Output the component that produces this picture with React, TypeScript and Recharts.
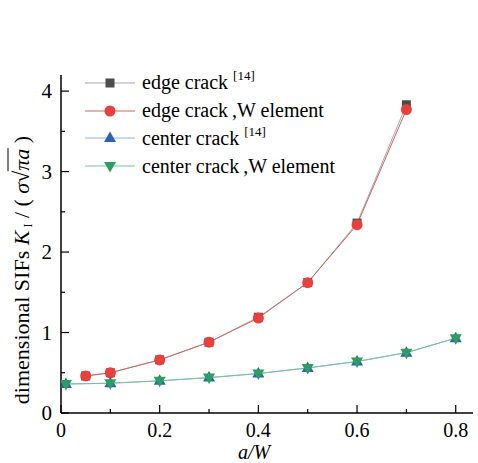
import React from "react";
import { LineChart, Line, XAxis, YAxis } from "recharts";

const edgeRefX = [0.05, 0.1, 0.2, 0.3, 0.4, 0.5, 0.6, 0.7];
const edgeRefY = [0.46, 0.5, 0.66, 0.88, 1.19, 1.62, 2.36, 3.83];
const edgeWX = [0.05, 0.1, 0.2, 0.3, 0.4, 0.5, 0.6, 0.7];
const edgeWY = [0.46, 0.5, 0.66, 0.88, 1.18, 1.62, 2.34, 3.77];
const centerRefX = [0.01, 0.1, 0.2, 0.3, 0.4, 0.5, 0.6, 0.7, 0.8];
const centerRefY = [0.36, 0.37, 0.4, 0.44, 0.49, 0.56, 0.64, 0.75, 0.93];
const centerWX = [0.01, 0.1, 0.2, 0.3, 0.4, 0.5, 0.6, 0.7, 0.8];
const centerWY = [0.36, 0.37, 0.4, 0.44, 0.49, 0.56, 0.64, 0.75, 0.93];

const xTicks = [0, 0.1, 0.2, 0.3, 0.4, 0.5, 0.6, 0.7, 0.8];
const xMajor = [0, 0.2, 0.4, 0.6, 0.8];
const yTicks = [0, 0.5, 1, 1.5, 2, 2.5, 3, 3.5, 4];
const yMajor = [0, 1, 2, 3, 4];

const toData = (xs: number[], ys: number[]) => xs.map((x, i) => ({ x, y: ys[i] }));

const FONT = "'Liberation Serif', 'Times New Roman', serif";

const COLORS = {
  grayMarker: "#4d4d4d",
  grayLine: "#a8a8a8",
  red: "#e8413c",
  redLine: "#d06460",
  blue: "#2b62b8",
  blueLine: "#8fb3e0",
  green: "#2e9e5e",
  greenLine: "#78c49a",
};

const Square = (p: any) => (
  <rect key={`s${p.index}`} x={p.cx - 4.5} y={p.cy - 4.5} width={9} height={9} fill={COLORS.grayMarker} />
);
const Circle = (p: any) => <circle key={`c${p.index}`} cx={p.cx} cy={p.cy} r={5.5} fill={COLORS.red} />;
const TriUp = (p: any) => (
  <path key={`t${p.index}`} d={`M${p.cx},${p.cy - 6.5} L${p.cx + 6},${p.cy + 4} L${p.cx - 6},${p.cy + 4} Z`} fill={COLORS.blue} />
);
const TriDown = (p: any) => (
  <path key={`d${p.index}`} d={`M${p.cx},${p.cy + 6.5} L${p.cx + 6},${p.cy - 4} L${p.cx - 6},${p.cy - 4} Z`} fill={COLORS.green} />
);

const XTick = (p: any) => {
  const v = p.payload.value;
  const major = xMajor.some((m) => Math.abs(m - v) < 1e-6);
  return (
    <g>
      <line x1={p.x} x2={p.x} y1={p.y} y2={p.y - (major ? 8 : 4)} stroke="#000" strokeWidth={1.2} />
      {major && (
        <text x={p.x} y={p.y + 24} textAnchor="middle" fontFamily={FONT} fontSize={20} fill="#000">
          {v === 0 ? "0" : String(v)}
        </text>
      )}
    </g>
  );
};

const YTick = (p: any) => {
  const v = p.payload.value;
  const major = yMajor.some((m) => Math.abs(m - v) < 1e-6);
  return (
    <g>
      <line x1={p.x} x2={p.x + (major ? 8 : 4)} y1={p.y} y2={p.y} stroke="#000" strokeWidth={1.2} />
      {major && (
        <text x={p.x - 9} y={p.y + 7} textAnchor="end" fontFamily={FONT} fontSize={21} fill="#000">
          {String(v)}
        </text>
      )}
    </g>
  );
};

const legendItems = [
  { name: "edge crack", sup: "[14]", line: COLORS.grayLine, marker: "square" },
  { name: "edge crack\u2009,W element", sup: "", line: COLORS.redLine, marker: "circle" },
  { name: "center crack", sup: "[14]", line: COLORS.blueLine, marker: "up" },
  { name: "center crack\u2009,W element", sup: "", line: COLORS.greenLine, marker: "down" },
];

const LegendBox = () => (
  <div style={{ position: "absolute", left: 84, top: 69, fontFamily: FONT, fontSize: 20, color: "#000" }}>
    {legendItems.map((it) => (
      <div key={it.name} style={{ display: "flex", alignItems: "center", height: 27.8 }}>
        <svg width={52} height={20} style={{ marginRight: 6 }}>
          <line x1={1} x2={51} y1={10} y2={10} stroke={it.line} strokeWidth={1} />
          {it.marker === "square" && <rect x={21.5} y={5.5} width={9} height={9} fill={COLORS.grayMarker} />}
          {it.marker === "circle" && <circle cx={26} cy={10} r={5.5} fill={COLORS.red} />}
          {it.marker === "up" && <path d="M26,3.5 L32,14 L20,14 Z" fill={COLORS.blue} />}
          {it.marker === "down" && <path d="M26,16.5 L32,6 L20,6 Z" fill={COLORS.green} />}
        </svg>
        <span style={{ whiteSpace: "nowrap" }}>
          {it.name}
          {it.sup && (
            <span style={{ fontSize: 13, position: "relative", top: -9, marginLeft: 5 }}>{it.sup}</span>
          )}
        </span>
      </div>
    ))}
  </div>
);

export default function App() {
  return (
    <div style={{ position: "absolute", left: 0, top: 0, width: 478, height: 463, background: "#fff" }}>
      <LineChart width={478} height={463} margin={{ top: 75, right: 5, bottom: 0, left: 0 }}>
        <XAxis
          type="number"
          dataKey="x"
          domain={[0, 0.835]}
          ticks={xTicks}
          interval={0}
          allowDataOverflow
          tickSize={0}
          tickMargin={0}
          tick={<XTick />}
          axisLine={{ stroke: "#000", strokeWidth: 1.5 }}
          height={50}
        />
        <YAxis
          type="number"
          domain={[0, 4.2]}
          ticks={yTicks}
          interval={0}
          allowDataOverflow
          tickSize={0}
          tickMargin={0}
          tick={<YTick />}
          axisLine={{ stroke: "#000", strokeWidth: 1.5 }}
          width={61}
        />
        <Line
          data={toData(edgeRefX, edgeRefY)}
          dataKey="y"
          name="edge crack [14]"
          stroke={COLORS.grayLine}
          strokeWidth={1}
          dot={Square}
          isAnimationActive={false}
        />
        <Line
          data={toData(edgeWX, edgeWY)}
          dataKey="y"
          name="edge crack,W element"
          stroke={COLORS.redLine}
          strokeWidth={1}
          dot={Circle}
          isAnimationActive={false}
        />
        <Line
          data={toData(centerRefX, centerRefY)}
          dataKey="y"
          name="center crack [14]"
          stroke={COLORS.blueLine}
          strokeWidth={1}
          dot={TriUp}
          isAnimationActive={false}
        />
        <Line
          data={toData(centerWX, centerWY)}
          dataKey="y"
          name="center crack,W element"
          stroke={COLORS.greenLine}
          strokeWidth={1}
          dot={TriDown}
          isAnimationActive={false}
        />
      </LineChart>
      <LegendBox />
      <div
        style={{
          position: "absolute",
          left: 23,
          top: 270,
          transform: "translate(-50%, -50%) rotate(-90deg)",
          whiteSpace: "nowrap",
          fontFamily: FONT,
          fontSize: 22,
          lineHeight: "26px",
          color: "#000",
        }}
      >
        dimensional SIFs <i>K</i>
        <span style={{ fontSize: 12, position: "relative", top: 3, marginLeft: 3 }}>I</span> / ( <i>σ</i>
        <span>√</span>
        <span style={{ borderTop: "1px solid #000", fontStyle: "italic" }}>πa</span> )
      </div>
      <div
        style={{
          position: "absolute",
          left: 254,
          top: 452,
          transform: "translate(-50%, -50%)",
          fontFamily: FONT,
          fontSize: 20,
          lineHeight: "18px",
          fontStyle: "italic",
          color: "#000",
          whiteSpace: "nowrap",
        }}
      >
        a/W
      </div>
    </div>
  );
}
